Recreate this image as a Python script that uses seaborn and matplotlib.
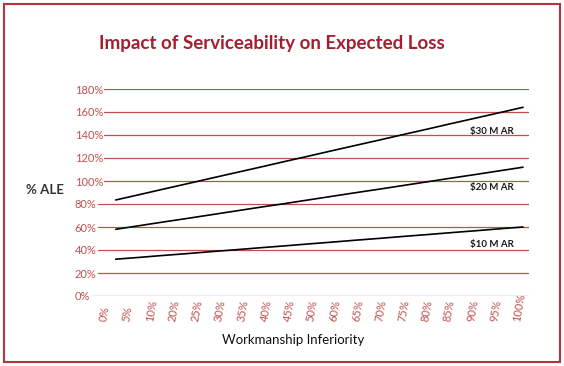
import numpy as np
import pandas as pd
import matplotlib
matplotlib.use("Agg")
import matplotlib.pyplot as plt
import seaborn as sns
from matplotlib.patches import Rectangle

# ---- data ----
categories = ["0%", "5%", "10%", "20%", "25%", "30%", "35%", "40%", "45%", "50%",
              "60%", "65%", "70%", "75%", "80%", "85%", "90%", "95%", "100%"]
ar30 = [83.5, 88.2, 93.0, 97.7, 102.5, 107.2, 111.9, 116.7, 121.4, 126.2, 130.9, 135.6,
        140.4, 145.1, 149.9, 154.6, 159.3, 164.1]
ar20 = [58.0, 61.2, 64.4, 67.5, 70.7, 73.9, 77.1, 80.2, 83.4, 86.6, 89.8, 92.9,
        96.1, 99.3, 102.5, 105.6, 108.8, 112.0]
ar10 = [32.0, 33.6, 35.3, 36.9, 38.6, 40.2, 41.9, 43.5, 45.2, 46.8, 48.5, 50.1,
        51.8, 53.4, 55.1, 56.7, 58.4, 60.0]
series_names = ["$30 M AR", "$20 M AR", "$10 M AR"]
y_ticks = [0, 20, 40, 60, 80, 100, 120, 140, 160, 180]

sns.set_theme(style="white")
plt.rcParams["font.family"] = ["Lato", "DejaVu Sans"]

RED = "#C0504D"
DARKRED = "#A31F30"

rows = []
for name, vals in zip(series_names, [ar30, ar20, ar10]):
    for i, v in enumerate(vals):
        rows.append({"idx": i + 1, "val": v, "series": name})
df = pd.DataFrame(rows)

W = 529 - 92
fig = plt.figure(figsize=(5.64, 3.66), dpi=100)
ax = fig.add_axes([92 / 564, 1 - 296 / 366, W / 564, (296 - 89) / 366])

sns.lineplot(data=df, x="idx", y="val", hue="series", palette=["black"] * 3,
             estimator=None, sort=False, legend=False, linewidth=1.2, ax=ax)

ax.set_xlim(0.01, 18.25)
ax.set_ylim(0, 180)
ax.set_yticks(y_ticks)
ax.set_yticklabels([f"{t}%" for t in y_ticks], color=RED, fontsize=8, ha="left")
for t in y_ticks:
    if t == 0:
        xmin = 0
    elif t >= 100:
        xmin = 12 / W
    else:
        xmin = 6 / W
    ax.axhline(t, xmin=xmin, xmax=1, color=RED, lw=0.9, zorder=0)

xt = [0.48 + 0.958 * i for i in range(len(categories))]
ax.set_xticks(xt)
ax.set_xticklabels(categories, color=RED, fontsize=8, rotation=80,
                   rotation_mode="anchor", ha="left", va="center")
ax.tick_params(axis="x", length=0, pad=18)
ax.tick_params(axis="y", length=0, pad=12.5)
for s in ax.spines.values():
    s.set_visible(False)
ax.set_xlabel("")
ax.set_ylabel("")

# series labels
for name, yv in zip(series_names, [143, 94.5, 45]):
    ax.text(17.6, yv, name, ha="right", va="center", fontsize=7, fontweight="bold",
            color="#1a1a1a")

fig.text(272 / 564, 1 - 44 / 366, "Impact of Serviceability on Expected Loss",
         ha="center", va="center", fontsize=13.5, fontweight="bold", color=DARKRED)
fig.text(45 / 564, 1 - 190 / 366, "% ALE", ha="center", va="center",
         fontsize=9.5, fontweight="bold", color="#333333")
fig.text(293 / 564, 1 - 340 / 366, "Workmanship Inferiority", ha="center", va="center",
         fontsize=9.5, color="#111111")

fig.patches.append(Rectangle((4 / 564, 4 / 366), 556 / 564, 358 / 366,
                             transform=fig.transFigure, fill=False,
                             edgecolor="#B8323C", lw=1.5))

fig.savefig("out.png", dpi=100, facecolor="white")
